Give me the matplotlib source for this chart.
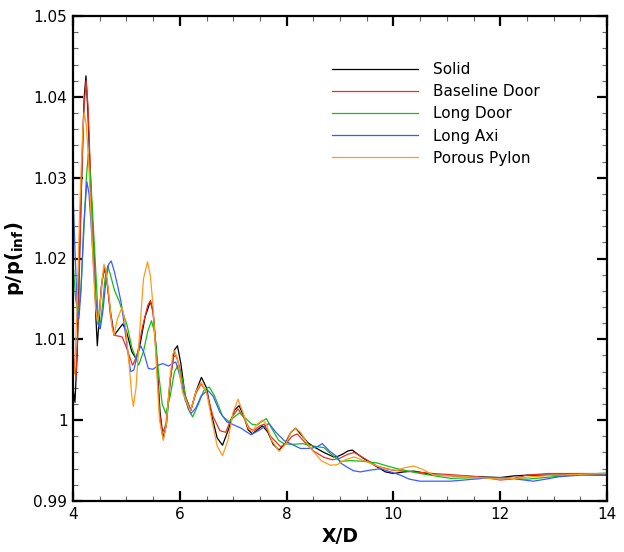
import matplotlib
matplotlib.use("Agg")
import matplotlib.pyplot as plt
from matplotlib.ticker import MultipleLocator, FixedLocator

# ---- data: pressure ratio along the axis for each configuration ----
solid_x = [4.00, 4.037, 4.08, 4.12, 4.17, 4.21, 4.243, 4.28, 4.33, 4.40, 4.43, 4.455, 4.49, 4.53, 4.585,
           4.63, 4.70, 4.77, 4.85, 4.93, 5.00, 5.10, 5.18, 5.26, 5.35, 5.45, 5.50, 5.56, 5.63, 5.69,
           5.75, 5.83, 5.90, 5.956, 6.02, 6.10, 6.206, 6.30, 6.405, 6.50, 6.60, 6.70, 6.80, 6.92, 7.02,
           7.11, 7.20, 7.28, 7.36, 7.45, 7.55, 7.65, 7.75, 7.86, 7.98, 8.08, 8.17, 8.26, 8.40, 8.51,
           8.70, 8.88, 8.95, 9.05, 9.15, 9.23, 9.35, 9.50, 9.70, 9.85, 10.0, 10.2, 10.38, 10.55, 10.75,
           11.2, 11.6, 12.0, 12.25, 12.5, 13.0, 13.5, 14.0]
solid_y = [1.0040, 1.0022, 1.0085, 1.0199, 1.0320, 1.0400, 1.0426, 1.0380, 1.0290, 1.0199, 1.0125, 1.0092,
           1.0125, 1.0165, 1.0188, 1.0175, 1.0135, 1.0105, 1.0112, 1.0119, 1.0110, 1.0085, 1.0076, 1.0095,
           1.0128, 1.0147, 1.0135, 1.0085, 1.0010, 0.9977, 0.9995, 1.0055, 1.0087, 1.0092, 1.0070, 1.0030,
           1.0012, 1.0035, 1.0053, 1.0040, 1.0005, 0.9978, 0.9969, 0.9990, 1.0012, 1.0018, 1.0005, 0.9988,
           0.9983, 0.9988, 0.9993, 0.9985, 0.9970, 0.9963, 0.9972, 0.9985, 0.9990, 0.9983, 0.9972, 0.9967,
           0.9960, 0.99545, 0.9955, 0.9958, 0.9962, 0.9963, 0.9957, 0.9950, 0.9942, 0.9936, 0.9934, 0.9936,
           0.9937, 0.9935, 0.9932, 0.9931, 0.9930, 0.9929, 0.9931, 0.9932, 0.9932, 0.9933, 0.9932]

baseline_x = [4.00, 4.056, 4.10, 4.15, 4.20, 4.245, 4.28, 4.33, 4.40, 4.44, 4.47, 4.51, 4.55, 4.59, 4.64,
              4.70, 4.77, 4.85, 4.92, 5.00, 5.115, 5.20, 5.30, 5.40, 5.45, 5.50, 5.56, 5.62, 5.67, 5.74,
              5.82, 5.88, 5.93, 6.00, 6.10, 6.206, 6.30, 6.40, 6.50, 6.62, 6.75, 6.86, 6.97, 7.09, 7.20,
              7.30, 7.38, 7.50, 7.58, 7.70, 7.89, 8.00, 8.10, 8.20, 8.35, 8.50, 8.70, 8.86, 9.00, 9.15,
              9.27, 9.45, 9.70, 10.0, 10.4, 10.75, 11.2, 11.6, 12.0, 12.2, 12.5, 12.9, 13.5, 14.0]
baseline_y = [1.0085, 1.0052, 1.0130, 1.0270, 1.0380, 1.0420, 1.0390, 1.0300, 1.0190, 1.0135, 1.0122,
              1.0145, 1.0175, 1.0189, 1.0172, 1.0130, 1.0105, 1.0104, 1.0103, 1.0090, 1.0068, 1.0080,
              1.0115, 1.0142, 1.0148, 1.0132, 1.0080, 1.0010, 0.9983, 0.9995, 1.0050, 1.0078, 1.0080,
              1.0065, 1.0030, 1.0012, 1.0033, 1.0045, 1.0035, 1.0005, 0.9987, 0.9985, 1.0003, 1.0014,
              1.0003, 0.9990, 0.9987, 0.9993, 0.9995, 0.9980, 0.9967, 0.9972, 0.9980, 0.9983, 0.9972,
              0.9962, 0.9954, 0.9951, 0.9953, 0.9958, 0.9960, 0.9953, 0.9943, 0.9938, 0.9936, 0.9934,
              0.9932, 0.9930, 0.9926, 0.9927, 0.9932, 0.9934, 0.9934, 0.9934]

long_door_x = [4.00, 4.05, 4.10, 4.15, 4.20, 4.25, 4.286, 4.33, 4.38, 4.43, 4.47, 4.50, 4.55, 4.60, 4.65,
               4.70, 4.78, 4.86, 4.95, 5.015, 5.10, 5.23, 5.32, 5.40, 5.47, 5.53, 5.60, 5.67, 5.74, 5.82,
               5.90, 5.97, 6.05, 6.15, 6.24, 6.35, 6.45, 6.55, 6.65, 6.80, 6.92, 7.02, 7.12, 7.22, 7.35,
               7.45, 7.55, 7.62, 7.72, 7.85, 7.95, 8.10, 8.30, 8.50, 8.70, 8.85, 9.01, 9.20, 9.45, 9.70,
               9.90, 10.07, 10.5, 11.07, 11.6, 12.0, 12.5, 13.0, 13.5, 14.0]
long_door_y = [1.0195, 1.0150, 1.0130, 1.0165, 1.0230, 1.0300, 1.0329, 1.0300, 1.0240, 1.0180, 1.0128,
               1.0113, 1.0140, 1.0175, 1.0191, 1.0180, 1.0160, 1.0148, 1.0130, 1.0117, 1.0090, 1.0068,
               1.0085, 1.0110, 1.0123, 1.0108, 1.0060, 1.0020, 1.0008, 1.0030, 1.0060, 1.0068, 1.0050,
               1.0015, 1.0004, 1.0020, 1.0037, 1.0041, 1.0030, 1.0005, 0.9998, 1.0004, 1.0009, 1.0003,
               0.9995, 0.9994, 0.9999, 1.0002, 0.9990, 0.9975, 0.9971, 0.9970, 0.9971, 0.9968, 0.9966,
               0.9957, 0.9949, 0.9950, 0.9949, 0.9947, 0.9943, 0.9940, 0.9934, 0.9928, 0.9929, 0.9929,
               0.9927, 0.9930, 0.9933, 0.99345]

long_axi_x = [4.00, 4.04, 4.08, 4.11, 4.15, 4.20, 4.26, 4.30, 4.35, 4.42, 4.47, 4.51, 4.56, 4.62, 4.67,
              4.715, 4.77, 4.84, 4.90, 4.96, 5.02, 5.08, 5.14, 5.20, 5.27, 5.33, 5.41, 5.50, 5.60, 5.68,
              5.79, 5.86, 5.925, 6.00, 6.10, 6.206, 6.30, 6.40, 6.52, 6.62, 6.75, 6.88, 7.015, 7.15, 7.33,
              7.50, 7.67, 7.80, 7.95, 8.10, 8.26, 8.45, 8.57, 8.67, 8.80, 8.95, 9.01, 9.13, 9.25, 9.38,
              9.55, 9.76, 9.95, 10.13, 10.3, 10.5, 10.8, 11.07, 11.5, 11.87, 12.2, 12.62, 12.85, 13.1,
              13.5, 14.0]
long_axi_y = [1.0280, 1.0205, 1.0140, 1.0125, 1.0160, 1.0240, 1.0295, 1.0280, 1.0230, 1.0150, 1.0118,
              1.0113, 1.0135, 1.0175, 1.0193, 1.0197, 1.0185, 1.0165, 1.0146, 1.0118, 1.0088, 1.0060,
              1.0062, 1.0080, 1.0092, 1.0083, 1.0064, 1.0063, 1.0068, 1.0070, 1.0067, 1.0070, 1.0072,
              1.0055, 1.0025, 1.0008, 1.0015, 1.0030, 1.0037, 1.0030, 1.0010, 0.9998, 0.9994, 0.9990,
              0.9982, 0.9988, 0.9996, 0.9985, 0.9975, 0.9970, 0.9965, 0.9965, 0.9967, 0.9971, 0.9962,
              0.99545, 0.9947, 0.9942, 0.99375, 0.9936, 0.9938, 0.9940, 0.9936, 0.9932, 0.9927, 0.99245,
              0.99245, 0.99245, 0.9927, 0.9929, 0.9928, 0.99245, 0.9927, 0.9930, 0.9932, 0.9932]

porous_x = [4.00, 4.03, 4.08, 4.13, 4.18, 4.21, 4.25, 4.30, 4.36, 4.42, 4.46, 4.50, 4.54, 4.58, 4.62,
            4.68, 4.73, 4.77, 4.83, 4.92, 4.98, 5.05, 5.10, 5.13, 5.18, 5.25, 5.32, 5.395, 5.45, 5.50,
            5.56, 5.62, 5.69, 5.75, 5.82, 5.87, 5.906, 5.96, 6.05, 6.20, 6.30, 6.40, 6.50, 6.60, 6.70,
            6.80, 6.90, 7.00, 7.09, 7.18, 7.28, 7.36, 7.45, 7.55, 7.62, 7.72, 7.86, 7.98, 8.08, 8.17,
            8.26, 8.45, 8.65, 8.82, 8.95, 9.10, 9.26, 9.45, 9.70, 9.90, 10.07, 10.2, 10.38, 10.55, 10.75,
            11.2, 11.6, 12.0, 12.3, 12.6, 13.0, 13.5, 14.0]
porous_y = [1.0055, 1.0060, 1.0150, 1.0270, 1.0355, 1.0380, 1.0365, 1.0310, 1.0220, 1.0140, 1.0122,
            1.0135, 1.0170, 1.0193, 1.0185, 1.0150, 1.0115, 1.0105, 1.0125, 1.0140, 1.0120, 1.0070,
            1.0030, 1.0017, 1.0040, 1.0110, 1.0175, 1.0196, 1.0178, 1.0140, 1.0070, 1.0000, 0.9975,
            0.9995, 1.0055, 1.0082, 1.0086, 1.0075, 1.0035, 1.0011, 1.0035, 1.0047, 1.0035, 1.0000,
            0.9968, 0.9956, 0.9975, 1.0010, 1.0026, 1.0010, 0.9990, 0.9986, 0.9995, 1.0000, 0.9995,
            0.9975, 0.99615, 0.9970, 0.9985, 0.9990, 0.9985, 0.9965, 0.9950, 0.99442, 0.9945, 0.9951,
            0.99545, 0.9950, 0.9943, 0.9939, 0.9938, 0.9941, 0.99433, 0.9939, 0.9932, 0.9931, 0.9929,
            0.9927, 0.9928, 0.9930, 0.9932, 0.9933, 0.9934]

series_names = ["Solid", "Baseline Door", "Long Door", "Long Axi", "Porous Pylon"]
series_colors = ["#000000", "#e8301c", "#10c010", "#3a5cff", "#ff9a1e"]

x_ticks = [4, 6, 8, 10, 12, 14]
x_tick_labels = ["4", "6", "8", "10", "12", "14"]
y_ticks = [0.99, 1.00, 1.01, 1.02, 1.03, 1.04, 1.05]
y_tick_labels = ["0.99", "1", "1.01", "1.02", "1.03", "1.04", "1.05"]

# ---- figure ----
fig = plt.figure(figsize=(6.24, 5.52), dpi=100)
ax = fig.add_axes([73 / 624, 51 / 552, 534 / 624, 485 / 552])

xs = [solid_x, baseline_x, long_door_x, long_axi_x, porous_x]
ys = [solid_y, baseline_y, long_door_y, long_axi_y, porous_y]
for x, y, name, col in zip(xs, ys, series_names, series_colors):
    ax.plot(x, y, color=col, lw=0.9, label=name)

ax.set_xlim(4, 14)
ax.set_ylim(0.99, 1.05)
ax.xaxis.set_major_locator(FixedLocator(x_ticks))
ax.set_xticklabels(x_tick_labels)
ax.yaxis.set_major_locator(FixedLocator(y_ticks))
ax.set_yticklabels(y_tick_labels)
ax.xaxis.set_minor_locator(MultipleLocator(0.5))
ax.yaxis.set_minor_locator(MultipleLocator(0.002))

ax.tick_params(which="both", direction="in", top=True, right=True)
ax.tick_params(which="major", length=7.5, width=1.6, color="black",
               labelsize=11, pad=4)
ax.tick_params(which="minor", length=3.8, width=0.8, color="#666666")
for sp in ax.spines.values():
    sp.set_linewidth(1.6)

ax.set_xlabel("X/D", fontsize=13.5, fontweight="bold", labelpad=4)
ax.set_ylabel(r"p/p($_{\mathbf{inf}}$)", fontsize=14, fontweight="bold", labelpad=5)

leg = ax.legend(loc="upper left", bbox_to_anchor=(0.485, 0.905), frameon=False,
                fontsize=11, handlelength=5.6, handletextpad=1.0,
                labelspacing=0.47, borderpad=0, borderaxespad=0)

fig.savefig("out.png", dpi=100)
